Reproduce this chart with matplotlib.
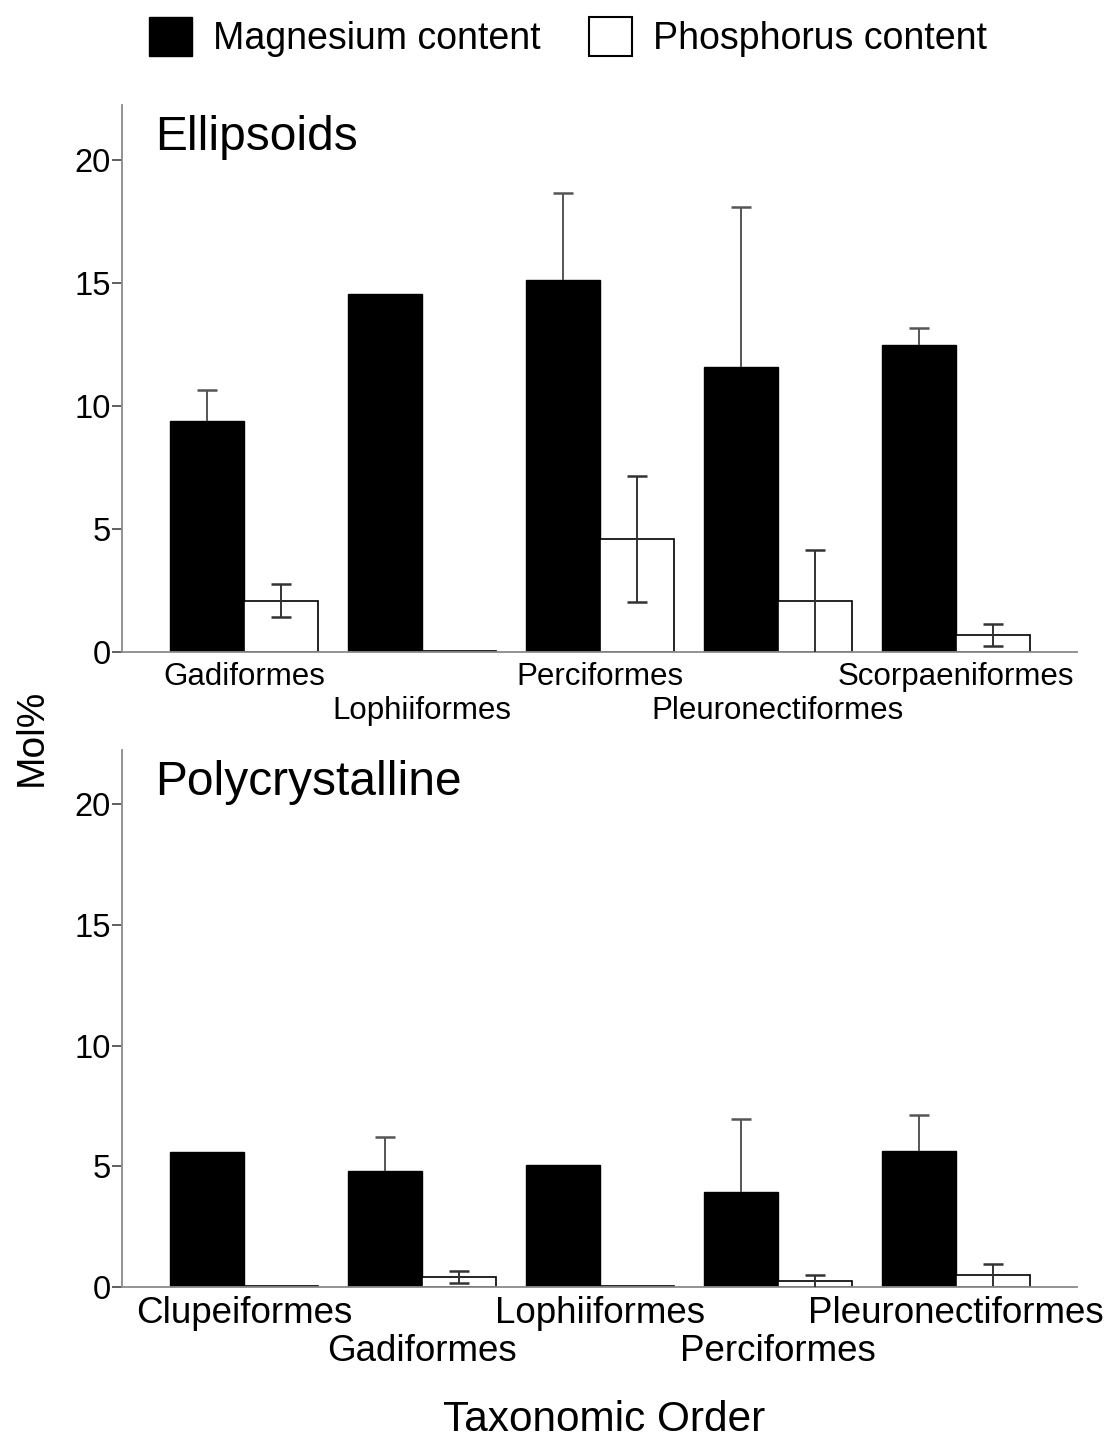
import numpy as np
import matplotlib
matplotlib.use('Agg')
import matplotlib.pyplot as plt
from matplotlib.patches import Patch

plt.rcParams['font.family'] = ['Liberation Sans', 'DejaVu Sans']

# Ellipsoid otoliths
ell_orders = ['Gadiformes', 'Lophiiformes', 'Perciformes', 'Pleuronectiformes', 'Scorpaeniformes']
ell_mg = [9.41, 14.58, 15.15, 11.61, 12.50]
ell_mg_err = [1.26, 0.0, 3.51, 6.48, 0.66]
ell_p = [2.08, 0.05, 4.60, 2.08, 0.69]
ell_p_err = [0.67, 0.0, 2.55, 2.07, 0.43]

# Polycrystalline otoliths
poly_orders = ['Clupeiformes', 'Gadiformes', 'Lophiiformes', 'Perciformes', 'Pleuronectiformes']
poly_mg = [5.59, 4.80, 5.05, 3.93, 5.63]
poly_mg_err = [0.0, 1.41, 0.0, 3.03, 1.49]
poly_p = [0.05, 0.41, 0.05, 0.25, 0.50]
poly_p_err = [0.0, 0.25, 0.0, 0.25, 0.45]

yticks = [0, 5, 10, 15, 20]
spine_gray = '#8a8a8a'

fig = plt.figure(figsize=(11.12, 14.41), dpi=100)
ax1 = fig.add_axes([122/1112, 1 - 652/1441, 955/1112, 547/1441])
ax2 = fig.add_axes([122/1112, 1 - 1287/1441, 955/1112, 537/1441])

w = 0.415
cap = 0.055  # half width of error bar caps, in data units


def err_line(ax, xi, lo, hi, color, lo_cap=True):
    ax.vlines(xi, lo, hi, color=color, linewidth=1.4, zorder=3)
    ax.hlines(hi, xi - cap, xi + cap, color=color, linewidth=1.8, zorder=3)
    if lo_cap:
        ax.hlines(lo, xi - cap, xi + cap, color=color, linewidth=1.8, zorder=3)


def draw_panel(ax, orders, mg, mg_err, p, p_err, title, tick_size, row_gap, pad):
    x = np.arange(len(orders))
    ax.bar(x - w/2, mg, w, color='black', edgecolor='black', linewidth=1.0)
    ax.bar(x + w/2, p, w, color='white', edgecolor='black', linewidth=1.2)
    # magnesium bars only show the upper whisker
    for xi, v, e in zip(x - w/2, mg, mg_err):
        if e > 0:
            err_line(ax, xi, v, v + e, '#555555', lo_cap=False)
    for xi, v, e in zip(x + w/2, p, p_err):
        if e > 0:
            lo = max(v - e, 0)
            err_line(ax, xi, lo, v + e, '#333333', lo_cap=lo > 0.05)
    ax.set_xlim(-0.685, 4.68)
    ax.set_ylim(0, 22.25)
    ax.set_yticks(yticks)
    ax.tick_params(axis='y', labelsize=23.5, length=7, width=1.2,
                   color='#444444', pad=1)
    ax.set_xticks(x)
    ax.set_xticklabels([])
    ax.tick_params(axis='x', length=0)
    for i, name in enumerate(orders):
        off = 0 if i % 2 == 0 else 1
        ax.annotate(name, xy=(x[i], 0), xycoords=('data', 'axes fraction'),
                    xytext=(0, -pad - off * row_gap),
                    textcoords='offset points', ha='center', va='center',
                    fontsize=tick_size)
    for s in ['top', 'right']:
        ax.spines[s].set_visible(False)
    for s in ['left', 'bottom']:
        ax.spines[s].set_color(spine_gray)
        ax.spines[s].set_linewidth(1.3)
    ax.text(0.035, 0.982, title, transform=ax.transAxes, ha='left', va='top',
            fontsize=34.5)


draw_panel(ax1, ell_orders, ell_mg, ell_mg_err, ell_p, ell_p_err,
           'Ellipsoids', 22.5, 24.5, 18)
draw_panel(ax2, poly_orders, poly_mg, poly_mg_err, poly_p, poly_p_err,
           'Polycrystalline', 26.5, 27.5, 19)

fig.text(32/1112, 1 - 737/1441, 'Mol%', rotation=90, ha='center', va='center',
         fontsize=28)
fig.text(604/1112, 1 - 1420/1441, 'Taxonomic Order', ha='center', va='center',
         fontsize=30.5)

handles = [Patch(facecolor='black', edgecolor='black', label='Magnesium content'),
           Patch(facecolor='white', edgecolor='black', linewidth=1.5,
                 label='Phosphorus content')]
fig.legend(handles=handles, loc='center', bbox_to_anchor=(568/1112, 1 - 37/1441),
           ncol=2, frameon=False, prop={'size': 27}, handlelength=1.15,
           handleheight=1.25, handletextpad=0.55, columnspacing=1.3)

fig.savefig('out.png', dpi=100)
